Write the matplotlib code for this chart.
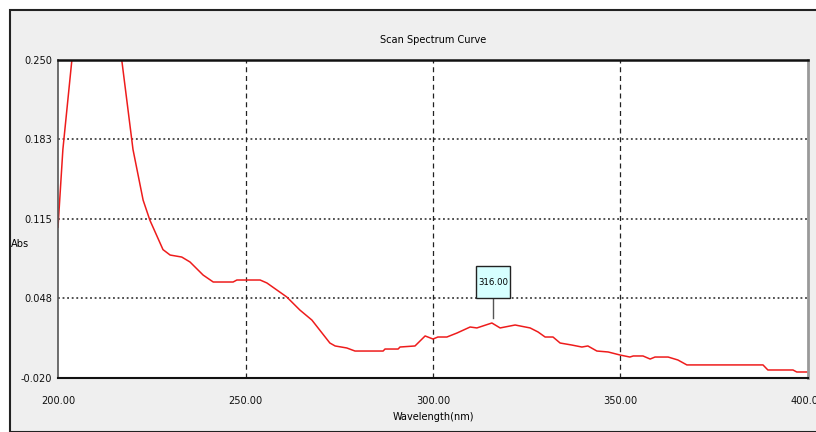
import matplotlib.pyplot as plt
from matplotlib.patches import Rectangle

# spectrum readings
wavelength = [200.0, 201.3, 203.7, 207.0, 212.0, 217.0, 220.0, 222.7, 224.5, 228.0,
              229.9, 233.0, 235.2, 238.7, 241.4, 246.7, 247.7, 253.9, 255.7, 261.0,
              264.5, 267.7, 272.5, 273.9, 277.0, 279.2, 286.7, 287.2, 290.7, 291.2,
              295.2, 297.9, 300.0, 301.3, 303.7, 306.4, 309.9, 311.7, 315.7, 317.9,
              321.9, 325.9, 328.0, 329.9, 332.0, 333.9, 337.0, 339.7, 341.3, 343.7,
              346.7, 349.9, 352.5, 353.4, 356.0, 357.9, 359.2, 362.7, 365.3, 367.7,
              388.0, 389.3, 396.0, 397.0, 400.0]
absorbance = [0.108, 0.174, 0.250, 0.320, 0.330, 0.250, 0.174, 0.131, 0.114, 0.089,
              0.0844, 0.0827, 0.0785, 0.0674, 0.0615, 0.0615, 0.0632, 0.0632, 0.0607, 0.0488,
              0.0377, 0.0292, 0.0097, 0.0072, 0.0055, 0.0029, 0.0029, 0.0046, 0.0046, 0.0063,
              0.0072, 0.0157, 0.0131, 0.0148, 0.0148, 0.0182, 0.0233, 0.0225, 0.0267, 0.0225,
              0.0250, 0.0225, 0.0191, 0.0148, 0.0148, 0.0097, 0.0080, 0.0063, 0.0072, 0.0029,
              0.0021, -0.0005, -0.0022, -0.0013, -0.0013, -0.0039, -0.0022, -0.0022, -0.0047, -0.0089,
              -0.0089, -0.0132, -0.0132, -0.0149, -0.0149]

x_ticks = [200, 250, 300, 350, 400]
x_tick_labels = ['200.00', '250.00', '300.00', '350.00', '400.00']
y_ticks = [-0.020, 0.048, 0.115, 0.183, 0.250]
y_tick_labels = ['-0.020', '0.048', '0.115', '0.183', '0.250']
peak_x = 316.0
peak_y = 0.0267

plt.rcParams['font.family'] = ['DejaVu Sans']
plt.rcParams['font.stretch'] = 'condensed'
fs = 7.8

fig = plt.figure(figsize=(8.16, 4.32), dpi=100)
fig.patch.set_facecolor('white')

# grey window panel with its dark border
panel = Rectangle((10 / 816, 0), 1, 1 - 10 / 432, transform=fig.transFigure,
                  facecolor='#efefef', edgecolor='#222222', linewidth=1.5, zorder=0)
fig.patches.append(panel)

ax = fig.add_axes([58 / 816, 54 / 432, 750 / 816, 318 / 432])
ax.set_zorder(2)
ax.set_facecolor('white')
ax.plot(wavelength, absorbance, color='#ee1c1c', linewidth=1.1, clip_on=True)

ax.set_xlim(200, 400)
ax.set_ylim(-0.020, 0.250)
ax.set_xticks(x_ticks)
ax.set_xticklabels(x_tick_labels)
ax.set_yticks(y_ticks)
ax.set_yticklabels(y_tick_labels)
ax.tick_params(length=0, labelsize=fs, colors='#111111', pad=4)
ax.tick_params(axis='x', pad=13)

for v in x_ticks[1:-1]:
    ax.axvline(v, color='#222222', linewidth=0.9, linestyle=(0, (4, 3)), zorder=1)
for v in y_ticks[1:-1]:
    ax.axhline(v, color='#222222', linewidth=1.1, linestyle=(0, (1.2, 1.8)), zorder=1)

ax.spines['top'].set_color('#111111')
ax.spines['top'].set_linewidth(1.8)
ax.spines['bottom'].set_color('#111111')
ax.spines['bottom'].set_linewidth(1.5)
ax.spines['left'].set_color('#555555')
ax.spines['left'].set_linewidth(1.2)
ax.spines['right'].set_color('#999999')
ax.spines['right'].set_linewidth(2.0)

ax.set_title('Scan Spectrum Curve', fontsize=fs, pad=12)
ax.set_xlabel('Wavelength(nm)', fontsize=fs, labelpad=4)
ax.set_ylabel('Abs', fontsize=fs, rotation=0, va='center', ha='center')
ax.yaxis.set_label_coords(-38 / 750, 0.42)

# peak marker: leader line and a tall label box resting on the 0.048 grid line
box_w, box_bottom, box_top = 9.0, 0.048, 0.075
ax.plot([peak_x, peak_x], [peak_y + 0.004, box_bottom], color='#555555', linewidth=1.0, zorder=3)
ax.add_patch(Rectangle((peak_x - box_w / 2, box_bottom), box_w, box_top - box_bottom,
                       facecolor='#d6ffff', edgecolor='#222222', linewidth=1.0, zorder=4))
ax.text(peak_x, (box_bottom + box_top) / 2, f'{peak_x:.2f}', ha='center', va='center',
        fontsize=6.8, zorder=5)

fig.savefig('out.png', dpi=100)
